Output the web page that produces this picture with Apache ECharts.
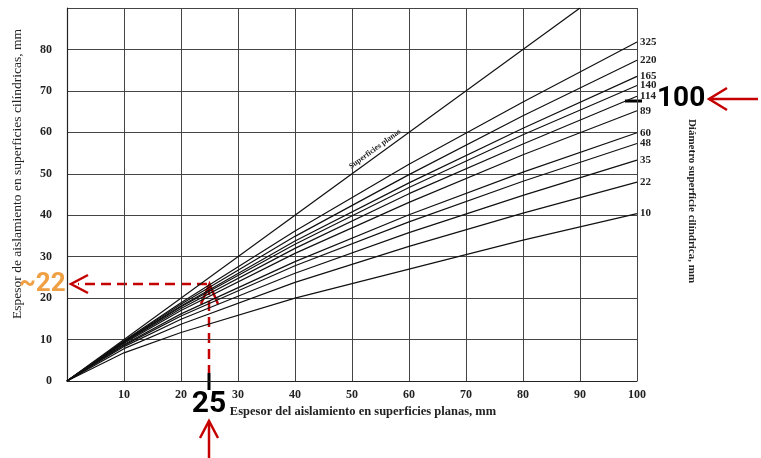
<!DOCTYPE html>
<html>
<head>
<meta charset="utf-8">
<script src="https://cdn.jsdelivr.net/npm/echarts@6/dist/echarts.min.js"></script>
<style>html,body{margin:0;padding:0;background:#fff}#c{width:761px;height:458px}</style>
</head>
<body>
<div id="c"></div>
<script>
// ---- data ----
const xPoints = [0, 10, 20, 40, 60, 80, 100];
const diameters = ['10', '22', '35', '48', '60', '89', '114', '140', '165', '220', '325'];
const d10  = [0, 6.8, 11.7, 20.0, 27.0, 34.0, 40.4];
const d22  = [0, 7.8, 13.7, 23.8, 32.5, 40.5, 48.0];
const d35  = [0, 8.3, 14.9, 26.0, 35.8, 44.8, 53.3];
const d48  = [0, 8.6, 15.7, 27.8, 38.4, 48.2, 57.3];
const d60  = [0, 8.8, 16.2, 28.8, 40.1, 50.4, 59.9];
const d89  = [0, 9.1, 17.0, 30.8, 43.1, 54.6, 65.2];
const d114 = [0, 9.3, 17.5, 32.0, 45.2, 57.2, 68.7];
const d140 = [0, 9.4, 17.9, 33.0, 46.7, 59.4, 71.3];
const d165 = [0, 9.5, 18.1, 33.8, 47.8, 61.0, 73.5];
const d220 = [0, 9.6, 18.5, 34.9, 49.8, 64.0, 77.4];
const d325 = [0, 9.7, 18.9, 36.2, 52.3, 67.3, 81.8];
const planasX = [0, 90];
const planasY = [0, 90];
const xTicks = [10, 20, 30, 40, 50, 60, 70, 80, 90, 100];
const yTicks = [0, 10, 20, 30, 40, 50, 60, 70, 80];

const curves = [d10, d22, d35, d48, d60, d89, d114, d140, d165, d220, d325];
const serif = '"Liberation Serif", "DejaVu Serif", serif';
const sans = 'Roboto, "Noto Sans", sans-serif';
const red = '#c40000';

const series = curves.map((vals, i) => ({
  type: 'line',
  name: diameters[i],
  data: xPoints.map((x, j) => [x, vals[j]]),
  showSymbol: false,
  smooth: false,
  lineStyle: { color: '#111', width: 1.2 },
  endLabel: {
    show: true, formatter: diameters[i], distance: 3,
    fontFamily: serif, fontWeight: 'bold', fontSize: 11, color: '#222'
  },
  silent: true
}));
series.push({
  type: 'line', name: 'planas',
  data: planasX.map((x, j) => [x, planasY[j]]),
  showSymbol: false, lineStyle: { color: '#111', width: 1.2 }, silent: true
});

const chart = echarts.init(document.getElementById('c'));
chart.setOption({
  animation: false,
  backgroundColor: '#fff',
  grid: { left: 67, right: 124, top: 8, bottom: 77 },
  xAxis: {
    type: 'value', min: 0, max: 100, interval: 10,
    axisLine: { show: true, lineStyle: { color: '#222', width: 1.2 } },
    axisTick: { show: false },
    splitLine: { show: true, lineStyle: { color: '#444', width: 1 } },
    axisLabel: {
      margin: 8, fontFamily: serif, fontWeight: 'bold', fontSize: 12, color: '#222',
      formatter: v => xTicks.indexOf(v) >= 0 ? String(v) : ''
    }
  },
  yAxis: {
    type: 'value', min: 0, max: 90, interval: 10,
    axisLine: { show: true, lineStyle: { color: '#222', width: 1.2 } },
    axisTick: { show: false },
    splitLine: { show: true, lineStyle: { color: '#444', width: 1 } },
    axisLabel: {
      margin: 15, fontFamily: serif, fontWeight: 'bold', fontSize: 12, color: '#222',
      formatter: v => yTicks.indexOf(v) >= 0 ? String(v) : ''
    }
  },
  series: series,
  graphic: [
    // axis titles
    { type: 'text', x: 17, y: 174, rotation: Math.PI / 2,
      style: { text: 'Espesor de aislamiento en superficies cilíndricas, mm', font: '13.5px ' + serif,
        fill: '#222', textAlign: 'center', textVerticalAlign: 'middle' } },
    { type: 'text', x: 363, y: 412,
      style: { text: 'Espesor del aislamiento en superficies planas, mm', font: 'bold 12.5px ' + serif,
        fill: '#222', textAlign: 'center', textVerticalAlign: 'middle' } },
    { type: 'text', x: 692, y: 201, rotation: -Math.PI / 2,
      style: { text: 'Diámetro superficie cilíndrica, mm', font: 'bold 11px ' + serif,
        fill: '#222', textAlign: 'center', textVerticalAlign: 'middle' } },
    { type: 'text', x: 375, y: 149, rotation: 0.63,
      style: { text: 'Superficies planas', font: 'bold 8px ' + serif,
        fill: '#222', textAlign: 'center', textVerticalAlign: 'middle' } },
    // annotation: reading at 25 -> ~22
    { type: 'line', shape: { x1: 209, y1: 285, x2: 209, y2: 373 },
      style: { stroke: red, lineWidth: 2.5, lineDash: [10, 6] } },
    { type: 'line', shape: { x1: 207, y1: 284, x2: 78, y2: 284 },
      style: { stroke: red, lineWidth: 2.5, lineDash: [10, 6] } },
    { type: 'polyline', shape: { points: [[88, 275], [71, 284], [88, 293]] },
      style: { stroke: red, lineWidth: 2.5, fill: null } },
    { type: 'polyline', shape: { points: [[201, 304], [209.5, 284], [218, 304]] },
      style: { stroke: red, lineWidth: 2.5, fill: null } },
    { type: 'line', shape: { x1: 209, y1: 373, x2: 209, y2: 390 },
      style: { stroke: '#000', lineWidth: 3 } },
    { type: 'text', x: 209, y: 404,
      style: { text: '25', font: 'bold 30px ' + sans, fill: '#000', textAlign: 'center', textVerticalAlign: 'middle' } },
    { type: 'line', shape: { x1: 209, y1: 421, x2: 209, y2: 458 },
      style: { stroke: red, lineWidth: 2.5 } },
    { type: 'polyline', shape: { points: [[200, 438], [209, 421], [218, 438]] },
      style: { stroke: red, lineWidth: 2.5, fill: null } },
    { type: 'text', x: 19, y: 284,
      style: { text: '~22', font: 'bold 26px ' + sans, fill: '#f0a044', textAlign: 'left', textVerticalAlign: 'middle' } },
    // annotation: diameter 100
    { type: 'line', shape: { x1: 625, y1: 101, x2: 642, y2: 101 },
      style: { stroke: '#000', lineWidth: 3 } },
    { type: 'text', x: 657, y: 99,
      style: { text: '100', font: 'bold 28px ' + sans, fill: '#000', textAlign: 'left', textVerticalAlign: 'middle' } },
    { type: 'line', shape: { x1: 709, y1: 99, x2: 758, y2: 99 },
      style: { stroke: red, lineWidth: 2.5 } },
    { type: 'polyline', shape: { points: [[727, 88], [709, 99], [727, 110]] },
      style: { stroke: red, lineWidth: 2.5, fill: null } }
  ]
});
</script>
</body>
</html>
